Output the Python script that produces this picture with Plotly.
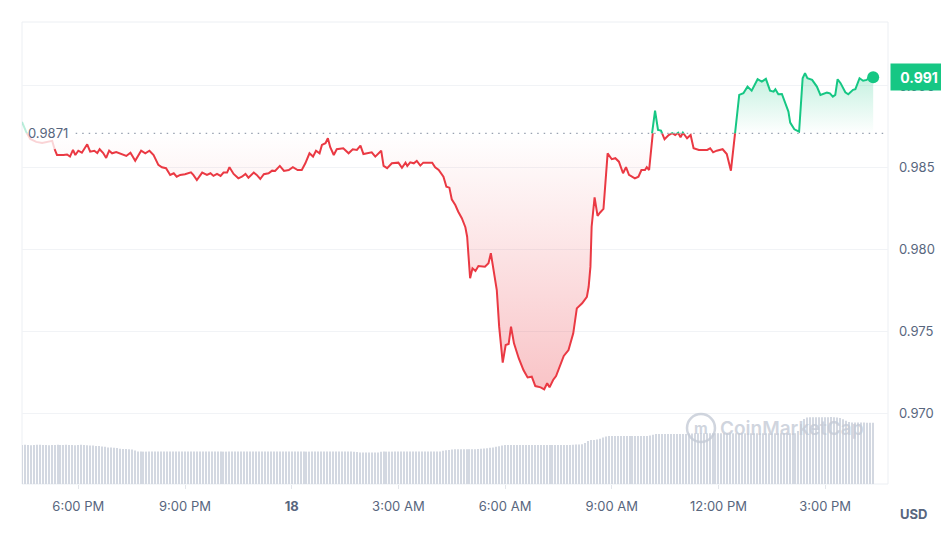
import pandas as pd
import plotly.graph_objects as go

MONTH = "2025-03-"
OPEN_PRICE = 0.9871

FADED_TIMES = ["17 16:25", "17 16:32", "17 16:39", "17 16:49", "17 16:59", "17 17:09", "17 17:16", "17 17:20"]
FADED_PRICES = [0.98780, 0.98719, 0.98676, 0.98658, 0.98651, 0.98658, 0.98664, 0.98613]

TIMES = [
    "17 17:20", "17 17:24", "17 17:35", "17 17:41", "17 17:46", "17 17:51", "17 17:55", "17 18:00",
    "17 18:06", "17 18:10", "17 18:15", "17 18:20", "17 18:27", "17 18:32", "17 18:36", "17 18:42",
    "17 18:47", "17 18:52", "17 18:57", "17 19:04", "17 19:11", "17 19:21", "17 19:28", "17 19:36",
    "17 19:46", "17 19:53", "17 20:00", "17 20:07", "17 20:15", "17 20:21", "17 20:28", "17 20:35",
    "17 20:41", "17 20:46", "17 20:52", "17 21:00", "17 21:10", "17 21:14", "17 21:20", "17 21:29",
    "17 21:37", "17 21:43", "17 21:48", "17 21:54", "17 22:00", "17 22:05", "17 22:11", "17 22:15",
    "17 22:22", "17 22:30", "17 22:36", "17 22:42", "17 22:47", "17 22:56", "17 23:01", "17 23:07",
    "17 23:13", "17 23:21", "17 23:27", "17 23:32", "17 23:40", "17 23:47", "17 23:55", "18 00:02",
    "18 00:10", "18 00:17", "18 00:23", "18 00:30", "18 00:36", "18 00:41", "18 00:47", "18 00:51",
    "18 00:57", "18 01:01", "18 01:05", "18 01:11", "18 01:16", "18 01:27", "18 01:36", "18 01:43",
    "18 01:50", "18 01:56", "18 02:01", "18 02:15", "18 02:21", "18 02:31", "18 02:35", "18 02:41",
    "18 02:49", "18 03:00", "18 03:06", "18 03:12", "18 03:15", "18 03:20", "18 03:26", "18 03:31",
    "18 03:37", "18 03:42", "18 03:57", "18 04:02", "18 04:08", "18 04:16", "18 04:21", "18 04:26",
    "18 04:30", "18 04:36", "18 04:41", "18 04:47", "18 04:53", "18 04:56", "18 05:01", "18 05:05",
    "18 05:10", "18 05:15", "18 05:26", "18 05:32", "18 05:36", "18 05:40", "18 05:46", "18 05:50",
    "18 05:56", "18 06:01", "18 06:06", "18 06:10", "18 06:15", "18 06:23", "18 06:31", "18 06:38",
    "18 06:45", "18 06:51", "18 07:00", "18 07:06", "18 07:11", "18 07:15", "18 07:21", "18 07:26",
    "18 07:33", "18 07:39", "18 07:47", "18 07:55", "18 08:01", "18 08:10", "18 08:18", "18 08:21",
    "18 08:24", "18 08:26", "18 08:31", "18 08:36", "18 08:40", "18 08:46", "18 08:53", "18 09:00",
    "18 09:06", "18 09:12", "18 09:19", "18 09:24", "18 09:29", "18 09:39", "18 09:45", "18 09:50",
    "18 09:56", "18 09:59", "18 10:03", "18 10:08", "18 10:13", "18 10:18", "18 10:23", "18 10:29",
    "18 10:36", "18 10:42", "18 10:47", "18 10:52", "18 10:56", "18 11:00", "18 11:07", "18 11:13",
    "18 11:18", "18 11:27", "18 11:41", "18 11:46", "18 11:51", "18 11:57", "18 12:07", "18 12:14",
    "18 12:21", "18 12:28", "18 12:35", "18 12:42", "18 12:49", "18 12:56", "18 13:06", "18 13:13",
    "18 13:20", "18 13:27", "18 13:33", "18 13:36", "18 13:41", "18 13:47", "18 13:52", "18 13:58",
    "18 14:01", "18 14:08", "18 14:16", "18 14:22", "18 14:26", "18 14:30", "18 14:38", "18 14:46",
    "18 14:52", "18 15:03", "18 15:08", "18 15:13", "18 15:17", "18 15:21", "18 15:26", "18 15:34",
    "18 15:39", "18 15:47", "18 15:51", "18 15:58", "18 16:04", "18 16:10", "18 16:16", "18 16:21",
]
PRICES = [
    0.98613, 0.98578, 0.98578, 0.98581, 0.98568, 0.98609, 0.98578, 0.98604,
    0.98592, 0.98613, 0.98643, 0.98598, 0.98604, 0.98590, 0.98613, 0.98590,
    0.98560, 0.98604, 0.98588, 0.98596, 0.98588, 0.98572, 0.98592, 0.98543,
    0.98604, 0.98588, 0.98604, 0.98578, 0.98517, 0.98503, 0.98497, 0.98456,
    0.98466, 0.98445, 0.98456, 0.98460, 0.98472, 0.98456, 0.98425, 0.98470,
    0.98456, 0.98466, 0.98450, 0.98462, 0.98450, 0.98470, 0.98470, 0.98503,
    0.98462, 0.98435, 0.98445, 0.98462, 0.98439, 0.98470, 0.98456, 0.98431,
    0.98460, 0.98466, 0.98482, 0.98480, 0.98511, 0.98480, 0.98486, 0.98503,
    0.98486, 0.98486, 0.98527, 0.98588, 0.98568, 0.98604, 0.98588, 0.98639,
    0.98650, 0.98680, 0.98625, 0.98578, 0.98613, 0.98619, 0.98588, 0.98613,
    0.98609, 0.98635, 0.98584, 0.98594, 0.98568, 0.98604, 0.98511, 0.98497,
    0.98527, 0.98531, 0.98500, 0.98531, 0.98511, 0.98533, 0.98527, 0.98541,
    0.98513, 0.98531, 0.98531, 0.98503, 0.98486, 0.98445, 0.98384, 0.98378,
    0.98307, 0.98272, 0.98231, 0.98191, 0.98136, 0.98078, 0.97824, 0.97885,
    0.97869, 0.97899, 0.97895, 0.97916, 0.97977, 0.97885, 0.97752, 0.97528,
    0.97308, 0.97416, 0.97422, 0.97528, 0.97426, 0.97335, 0.97263, 0.97218,
    0.97222, 0.97165, 0.97157, 0.97145, 0.97182, 0.97157, 0.97202, 0.97226,
    0.97294, 0.97349, 0.97385, 0.97487, 0.97640, 0.97671, 0.97711, 0.97772,
    0.97895, 0.98139, 0.98319, 0.98205, 0.98225, 0.98248, 0.98588, 0.98552,
    0.98558, 0.98537, 0.98466, 0.98503, 0.98456, 0.98435, 0.98445, 0.98486,
    0.98486, 0.98503, 0.98486, 0.98711, 0.98849, 0.98731, 0.98727, 0.98674,
    0.98700, 0.98711, 0.98700, 0.98714, 0.98686, 0.98714, 0.98680, 0.98700,
    0.98619, 0.98609, 0.98609, 0.98619, 0.98594, 0.98604, 0.98613, 0.98584,
    0.98482, 0.98711, 0.98945, 0.98955, 0.98996, 0.98971, 0.99041, 0.99026,
    0.99043, 0.98971, 0.98965, 0.98980, 0.98949, 0.98951, 0.98904, 0.98843,
    0.98776, 0.98735, 0.98720, 0.99047, 0.99078, 0.99047, 0.99037, 0.98996,
    0.98945, 0.98959, 0.98955, 0.98935, 0.98945, 0.99041, 0.99017, 0.98961,
    0.98949, 0.98976, 0.98980, 0.99047, 0.99032, 0.99037, 0.99057, 0.99053,
]

# 5-minute volume bars (millions USD), one row per hour, starting 16:25
VOLUME_START = "17 16:25"
VOLUME = [
    19.5, 19.6, 19.5, 19.4, 19.5, 19.6, 19.6, 19.5, 19.5, 19.4, 19.5, 19.5,
    19.6, 19.5, 19.5, 19.6, 19.5, 19.5, 19.4, 19.5, 19.6, 19.5, 19.4, 19.3,
    19.2, 19.0, 19.0, 18.8, 18.6, 18.2, 18.2, 18.1, 18.0, 17.6, 17.5, 17.5,
    17.4, 17.2, 16.8, 16.3, 16.2, 16.2, 16.2, 16.2, 16.2, 16.2, 16.2, 16.2,
    16.2, 16.2, 16.2, 16.2, 16.2, 16.2, 16.2, 16.2, 16.2, 16.2, 16.2, 16.2,
    16.2, 16.2, 16.2, 16.2, 16.2, 16.2, 16.2, 16.2, 16.2, 16.2, 16.2, 16.2,
    16.2, 16.2, 16.2, 16.2, 16.2, 16.2, 16.2, 16.2, 16.2, 16.2, 16.2, 16.2,
    16.2, 16.2, 16.2, 16.2, 16.2, 16.2, 16.2, 16.2, 16.2, 16.2, 16.2, 16.2,
    16.2, 16.2, 16.2, 16.2, 16.2, 16.2, 16.2, 16.2, 16.2, 16.2, 16.2, 16.2,
    16.2, 16.2, 16.2, 16.2, 16.1, 16.0, 15.8, 15.7, 15.7, 15.7, 15.7, 15.7,
    15.8, 16.1, 16.2, 16.2, 16.2, 16.2, 16.2, 16.2, 16.2, 16.2, 16.2, 16.2,
    16.2, 16.2, 16.2, 16.2, 16.2, 16.2, 16.2, 16.2, 16.2, 16.3, 16.6, 16.9,
    17.0, 17.2, 17.4, 17.4, 17.4, 17.4, 17.4, 17.4, 17.4, 17.4, 17.5, 17.6,
    17.7, 17.9, 18.1, 18.3, 18.6, 18.9, 19.2, 19.5, 19.5, 19.5, 19.5, 19.5,
    19.5, 19.5, 19.5, 19.5, 19.5, 19.5, 19.5, 19.5, 19.5, 19.5, 19.5, 19.5,
    19.5, 19.5, 19.5, 19.5, 19.5, 19.5, 19.6, 19.7, 19.8, 19.9, 20.5, 21.5,
    22.0, 22.0, 22.2, 22.6, 23.2, 23.8, 24.0, 24.0, 24.0, 24.0, 24.0, 24.0,
    24.0, 24.0, 24.0, 24.0, 24.0, 24.0, 24.0, 24.0, 24.2, 24.6, 25.0, 25.0,
    25.0, 25.0, 25.0, 25.0, 25.0, 25.0, 25.0, 25.0, 25.0, 25.2, 25.3, 25.4,
    25.4, 25.4, 25.4, 25.4, 25.4, 25.4, 25.4, 25.4, 25.4, 25.4, 25.4, 25.4,
    25.4, 25.4, 25.4, 25.4, 25.4, 25.4, 25.4, 25.4, 25.4, 25.4, 25.4, 25.4,
    25.4, 25.4, 25.4, 25.4, 25.4, 25.4, 25.4, 25.4, 25.4, 25.4, 26.5, 30.0,
    32.5, 33.2, 33.4, 33.4, 33.4, 33.4, 33.4, 33.4, 33.4, 33.5, 33.4, 33.2,
    33.0, 32.4, 31.6, 31.0, 30.8, 30.7, 30.7, 30.7, 30.7, 30.6, 30.6, 30.6,
]

TICK_TIMES = ["17 18:00", "17 21:00", "18 00:00", "18 03:00", "18 06:00", "18 09:00", "18 12:00", "18 15:00"]
TICK_LABELS = ["6:00 PM", "9:00 PM", "<b>18</b>", "3:00 AM", "6:00 AM", "9:00 AM", "12:00 PM", "3:00 PM"]
PRICE_TICKS = [0.970, 0.975, 0.980, 0.985, 0.990]
X_RANGE = ["17 16:25", "18 16:46"]
Y_LO, Y_HI = 0.96566, 0.99391
VOL_MAX = 231

RED = "#ea3943"
GREEN = "#16c784"
GREY = "#58667e"
WATERMARK = "rgba(196,202,214,0.8)"


def ts(s):
    return pd.to_datetime(MONTH + s)


faded_t = [ts(s) for s in FADED_TIMES]
bold_t = [ts(s) for s in TIMES]
vol_t = pd.date_range(ts(VOLUME_START), periods=len(VOLUME), freq="5min")
split = (OPEN_PRICE - Y_LO) / (Y_HI - Y_LO)
base = [OPEN_PRICE] * len(PRICES)

fig = go.Figure()

fig.add_trace(go.Bar(x=vol_t, y=VOLUME, yaxis="y2", width=110000,
                     marker=dict(color="#d3d8e1", line=dict(width=0)), hoverinfo="skip"))

# below-open (red) part, clipped to lower subplot
fig.add_trace(go.Scatter(x=bold_t, y=base, yaxis="y3", mode="lines",
                         line=dict(width=0, color="rgba(0,0,0,0)"), hoverinfo="skip"))
fig.add_trace(go.Scatter(x=bold_t, y=PRICES, yaxis="y3", mode="lines",
                         line=dict(color=RED, width=2), fill="tonexty",
                         fillgradient=dict(type="vertical",
                                           colorscale=[[0, "rgba(234,57,67,0.30)"], [1, "rgba(234,57,67,0.0)"]],
                                           start=min(PRICES), stop=OPEN_PRICE)))
fig.add_trace(go.Scatter(x=faded_t, y=FADED_PRICES, yaxis="y3", mode="lines",
                         line=dict(color="rgba(234,57,67,0.22)", width=2)))

# above-open (green) part, clipped to upper subplot
fig.add_trace(go.Scatter(x=bold_t, y=base, yaxis="y4", mode="lines",
                         line=dict(width=0, color="rgba(0,0,0,0)"), hoverinfo="skip"))
fig.add_trace(go.Scatter(x=bold_t, y=PRICES, yaxis="y4", mode="lines",
                         line=dict(color=GREEN, width=2), fill="tonexty",
                         fillgradient=dict(type="vertical",
                                           colorscale=[[0, "rgba(22,199,132,0.0)"], [1, "rgba(22,199,132,0.26)"]],
                                           start=OPEN_PRICE, stop=max(PRICES))))
fig.add_trace(go.Scatter(x=faded_t, y=FADED_PRICES, yaxis="y4", mode="lines",
                         line=dict(color="rgba(22,199,132,0.3)", width=2)))

fig.add_trace(go.Scatter(x=[bold_t[-1]], y=[PRICES[-1]], yaxis="y4", mode="markers",
                         marker=dict(size=12, color=GREEN), cliponaxis=False))

# the page adds an 8px body margin, so the figure is 16px smaller than the window
fig.update_layout(
    width=933, height=520,
    margin=dict(l=14, r=53, t=14, b=44),
    paper_bgcolor="white", plot_bgcolor="rgba(0,0,0,0)",
    showlegend=False,
    font=dict(family="Inter", size=13, color=GREY),
    xaxis=dict(type="date", range=[ts(X_RANGE[0]), ts(X_RANGE[1])],
               tickvals=[ts(s) for s in TICK_TIMES], ticktext=TICK_LABELS,
               ticks="outside", ticklen=4, tickcolor="#e3e6eb", automargin=False,
               showgrid=False, zeroline=False, showline=False, ticklabelstandoff=6),
    yaxis=dict(range=[Y_LO, Y_HI], side="right", tickvals=PRICE_TICKS, tickformat=".3f",
               showgrid=True, gridcolor="#f1f3f6", gridwidth=1, zeroline=False, automargin=False,
               showline=False, ticks="", ticklabelstandoff=10),
    yaxis2=dict(overlaying="y", range=[0, VOL_MAX], visible=False),
    yaxis3=dict(domain=[0, split], range=[Y_LO, OPEN_PRICE], visible=False, anchor="x"),
    yaxis4=dict(domain=[split, 1], range=[OPEN_PRICE, Y_HI], visible=False, anchor="x"),
)

# plot border
fig.add_shape(type="rect", xref="paper", yref="paper", x0=0, x1=1, y0=0, y1=1,
              line=dict(color="#eceff3", width=1), layer="below")
# open-price dotted line
fig.add_shape(type="line", xref="paper", yref="y", x0=0.062, x1=1, y0=OPEN_PRICE, y1=OPEN_PRICE,
              line=dict(color="#98a1b0", width=1.3, dash="1.5px,5px"))
fig.add_annotation(xref="paper", yref="y", x=0.005, y=OPEN_PRICE, xanchor="left", yanchor="middle",
                   text=f"{OPEN_PRICE:.4f}", showarrow=False, font=dict(size=13, color=GREY))

# current price badge
fig.add_annotation(xref="paper", yref="y", x=1, y=PRICES[-1], xanchor="left", yanchor="middle",
                   xshift=2, text=f"<b>{PRICES[-1]:.3f}</b>", showarrow=False,
                   bgcolor=GREEN, font=dict(size=14, color="white"), width=50, height=20, borderpad=3)

fig.add_annotation(xref="paper", yref="paper", x=1.029, y=-0.065, xanchor="center", yanchor="middle",
                   text="<b>USD</b>", showarrow=False, font=dict(size=13, color=GREY))

# watermark
fig.add_shape(type="circle", xref="paper", yref="paper", x0=0.7679, x1=0.8002, y0=0.0909, y1=0.1515,
              line=dict(color=WATERMARK, width=2.5))
fig.add_annotation(xref="paper", yref="paper", x=0.7840, y=0.1212, xanchor="center", yanchor="middle",
                   text="<b>m</b>", showarrow=False, font=dict(size=15, color=WATERMARK))
fig.add_annotation(xref="paper", yref="paper", x=0.889, y=0.1212, xanchor="center", yanchor="middle",
                   text="CoinMarketCap", showarrow=False,
                   font=dict(size=19, color=WATERMARK, weight=600))

fig.write_html("out.html")
